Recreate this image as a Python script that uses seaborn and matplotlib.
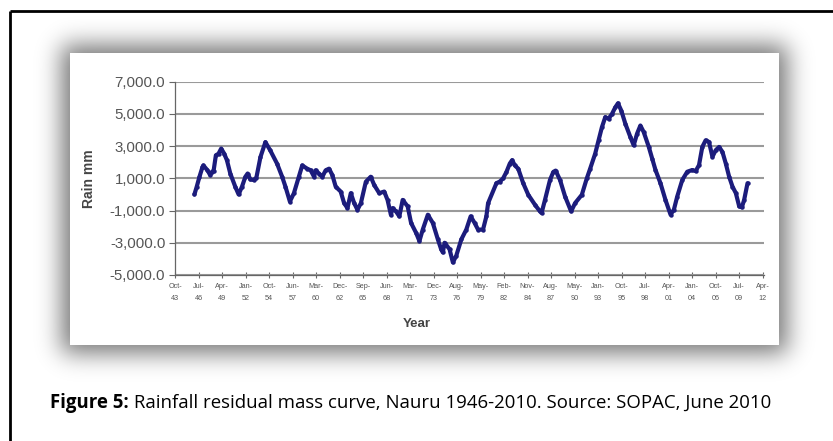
import math
import numpy as np
import pandas as pd
import matplotlib
matplotlib.use('Agg')
import matplotlib.pyplot as plt
import seaborn as sns
from matplotlib.patches import Rectangle

# Rainfall residual mass curve, Nauru (decimal year, rain mm)
years = [1946.06, 1946.33, 1946.65, 1947.00, 1947.11, 1947.58, 1947.90, 1948.09, 1948.29, 1948.56,
         1948.87, 1949.18, 1949.53, 1949.85, 1950.24, 1950.82, 1951.21, 1951.60, 1952.00, 1952.26,
         1952.58, 1952.96, 1953.28, 1953.75, 1954.33, 1954.90, 1955.70, 1956.28, 1956.67, 1957.18,
         1957.65, 1958.23, 1958.62, 1959.20, 1959.60, 1960.00, 1960.18, 1960.57, 1960.96, 1961.35,
         1961.74, 1962.13, 1962.52, 1963.10, 1963.50, 1963.89, 1964.28, 1964.67, 1965.05, 1965.45,
         1966.03, 1966.60, 1967.00, 1967.59, 1968.17, 1968.56, 1968.95, 1969.15, 1969.54, 1969.93,
         1970.32, 1970.90, 1971.30, 1971.88, 1972.27, 1972.66, 1973.25, 1973.83, 1974.42, 1974.80,
         1975.00, 1975.20, 1975.78, 1976.17, 1976.56, 1977.15, 1977.73, 1978.24, 1978.70, 1979.10,
         1979.68, 1980.07, 1980.27, 1981.24, 1981.63, 1982.02, 1982.41, 1982.80, 1983.07, 1983.39,
         1983.78, 1984.36, 1984.95, 1985.73, 1986.31, 1986.50, 1986.90, 1987.48, 1987.87, 1988.14,
         1988.65, 1989.24, 1989.94, 1990.40, 1991.19, 1991.77, 1992.16, 1992.75, 1993.14, 1993.53,
         1993.92, 1994.30, 1994.70, 1995.09, 1995.40, 1995.79, 1996.26, 1996.84, 1997.23, 1997.62,
         1998.01, 1998.40, 1998.99, 1999.38, 1999.77, 2000.35, 2000.93, 2001.52, 2001.91, 2002.30,
         2002.89, 2003.47, 2004.06, 2004.45, 2004.84, 2005.22, 2005.61, 2006.00, 2006.40, 2006.79,
         2007.18, 2007.57, 2007.96, 2008.35, 2008.74, 2009.13, 2009.52, 2009.83, 2010.10, 2010.49]
rain_mm = [0, 480, 1100, 1700, 1800, 1500, 1200, 1400, 1450, 2430,
           2530, 2850, 2530, 2120, 1300, 480, 0, 480, 1100, 1300,
           930, 900, 1050, 2320, 3250, 2730, 1900, 1100, 480, -440,
           80, 1100, 1800, 1600, 1500, 1100, 1500, 1300, 1100, 1500,
           1600, 1200, 480, 180, -540, -850, 80, -540, -950, -540,
           790, 1100, 590, 80, 180, -340, -1260, -850, -1050, -1360,
           -340, -740, -1770, -2380, -2890, -2180, -1260, -1770, -2790, -3400,
           -3600, -3000, -3400, -4220, -3810, -2790, -2180, -1360, -1770, -2180,
           -2180, -1360, -540, 700, 800, 1000, 1400, 1920, 2130, 1800,
           1600, 700, -20, -640, -1050, -1150, -330, 900, 1400, 1480,
           900, -130, -1050, -540, -20, 1000, 1600, 2540, 3360, 4180,
           4800, 4700, 5000, 5410, 5660, 5200, 4390, 3570, 3050, 3770,
           4280, 3870, 2950, 2230, 1520, 700, -330, -1250, -950, -130,
           900, 1410, 1520, 1450, 1820, 2950, 3360, 3260, 2340, 2750,
           2950, 2640, 1920, 1100, 490, 80, -740, -800, -330, 700]

tick_labels = ['Oct-\n43', 'Jul-\n46', 'Apr-\n49', 'Jan-\n52', 'Oct-\n54', 'Jun-\n57', 'Mar-\n60',
               'Dec-\n62', 'Sep-\n65', 'Jun-\n68', 'Mar-\n71', 'Dec-\n73', 'Aug-\n76', 'May-\n79',
               'Feb-\n82', 'Nov-\n84', 'Aug-\n87', 'May-\n90', 'Jan-\n93', 'Oct-\n95', 'Jul-\n98',
               'Apr-\n01', 'Jan-\n04', 'Oct-\n06', 'Jul-\n09', 'Apr-\n12']
y_ticks = [-5000, -3000, -1000, 1000, 3000, 5000, 7000]
caption_bold = 'Figure 5:'
caption_text = ' Rainfall residual mass curve, Nauru 1946-2010. Source: SOPAC, June 2010'


def to_date(y):
    yr = int(y)
    return pd.Timestamp(year=yr, month=1, day=1) + pd.Timedelta(days=(y - yr) * 365.25)


df = pd.DataFrame({'date': [to_date(y) for y in years], 'rain': rain_mm})
# excel date axis, major unit 1000 days
tick_dates = pd.date_range('1943-10-20', periods=len(tick_labels), freq='1000D')

sns.set_style('white')
plt.rcParams['font.family'] = ['Liberation Sans', 'DejaVu Sans']

W, H = 833, 441
fig = plt.figure(figsize=(W / 100, H / 100), dpi=100)

# background layer: page border, drop shadow and white chart panel
bg = fig.add_axes([0, 0, 1, 1])
bg.set_xlim(0, W)
bg.set_ylim(H, 0)
bg.axis('off')

px0, px1, py0, py1 = 70, 779, 53, 345
erf = np.vectorize(math.erf)
s = 12 * math.sqrt(2)
xs = np.arange(W) + 0.5
ys = np.arange(H) + 0.5
fx = 0.5 * (erf((xs - px0 + 8) / s) - erf((xs - px1 - 8) / s))
fy = 0.5 * (erf((ys - py0 + 8) / s) - erf((ys - py1 - 8) / s))
shadow = np.zeros((H, W, 4))
shadow[..., 3] = 0.55 * np.outer(fy, fx)
bg.imshow(shadow, extent=[0, W, H, 0], interpolation='bilinear', zorder=0)
bg.add_patch(Rectangle((px0, py0), px1 - px0, py1 - py0, facecolor='white', edgecolor='none', zorder=1))
bg.plot([10, 10], [11, H], color='black', lw=2, zorder=2, solid_capstyle='butt')
bg.plot([10, W], [11, 11], color='black', lw=2, zorder=2, solid_capstyle='butt')

# the chart itself
ax = fig.add_axes([175 / W, 1 - 275 / H, (764 - 175) / W, (275 - 81.7) / H])
ax.set_facecolor('white')
sns.lineplot(data=df, x='date', y='rain', ax=ax, color='#1c1c7c', lw=3,
             marker='o', markersize=3.2, markeredgewidth=0)

ax.set_ylim(-5000, 7000)
ax.set_yticks(y_ticks)
ax.set_yticklabels([f'{v:,.1f}' for v in y_ticks])
ax.set_xlim(tick_dates[0], tick_dates[-1] + pd.Timedelta(days=60))
ax.set_xticks(tick_dates)
ax.set_xticklabels(tick_labels, linespacing=2.0)
ax.yaxis.grid(True, color='#9a9a9a', lw=1.5)
ax.xaxis.grid(False)
ax.set_axisbelow(True)
for side in ['top', 'right']:
    ax.spines[side].set_visible(False)
for side in ['left', 'bottom']:
    ax.spines[side].set_color('#666666')
    ax.spines[side].set_linewidth(0.9)
ax.tick_params(axis='y', direction='out', length=4, width=0.8, color='#666666',
               labelsize=10.8, labelcolor='#555555', pad=3, left=True)
ax.tick_params(axis='x', direction='inout', length=4, width=0.8, color='#666666',
               labelsize=5.2, labelcolor='#555555', pad=4, bottom=True)
ax.set_xlabel('Year', fontsize=9.5, fontweight='bold', color='#444444')
ax.xaxis.set_label_coords((417 - 175) / (764 - 175), -0.225)
ax.set_ylabel('Rain mm', fontsize=10, fontweight='bold', color='#444444', labelpad=10)

# caption under the chart
cap_font = ['Open Sans', 'DejaVu Sans']
t1 = fig.text(50 / W, 1 - 408 / H, caption_bold, fontsize=13.4, fontweight='bold',
              family=cap_font, va='baseline', color='black')
fig.canvas.draw()
bb = t1.get_window_extent(fig.canvas.get_renderer())
fig.text(bb.x1 / W, 1 - 408 / H, caption_text, fontsize=13.4,
         family=cap_font, va='baseline', color='black')

fig.savefig('out.png', dpi=100)
